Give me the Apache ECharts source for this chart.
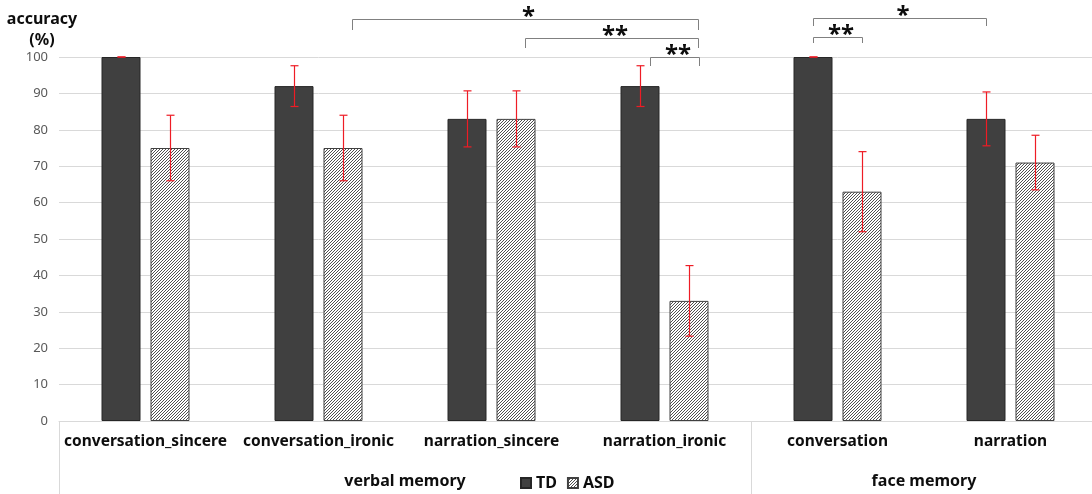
<!DOCTYPE html>
<html><head><meta charset="utf-8">
<script src="https://cdn.jsdelivr.net/npm/echarts@6/dist/echarts.min.js"></script>
<style>html,body{margin:0;padding:0;background:#fff;overflow:hidden}#c{width:1100px;height:494px}</style>
</head><body><div id="c"></div>
<script>
const categories = ['conversation_sincere','conversation_ironic','narration_sincere','narration_ironic','conversation','narration'];
const groupNames = ['verbal memory','face memory'];
const groupSpans = [4, 2];
const tdValues = [100, 92, 83, 92, 100, 83];
const asdValues = [75, 75, 83, 33, 63, 71];
const tdErrors = [0, 5.6, 7.7, 5.6, 0, 7.4];
const asdErrors = [9, 9, 7.7, 9.7, 11, 7.5];
const yMin = 0, yMax = 100, yInterval = 10;
// significance brackets: [catA, sideA, catB, sideB, level, tickDrop, label, pxShift]
const brackets = [
  [1, 1, 3, 1, 110.4, 3.0, '*', 9],
  [2, 1, 3, 1, 105.2, 2.7, '**', 9],
  [3, -1, 3, 1, 100.0, 2.5, '**', 10],
  [4, -1, 5, -1, 110.7, 2.2, '*', 0],
  [4, -1, 4, 1, 105.5, 1.7, '**', 0]
];

const FONT = 'Noto Sans';
const barWidth = 39, barGapPx = 10;
const barOffset = (barWidth + barGapPx) / 2;
const errColor = '#ee1c25';

function hatch() {
  const n = 3;
  const c = document.createElement('canvas');
  c.width = n; c.height = n;
  const g = c.getContext('2d');
  g.fillStyle = '#ffffff'; g.fillRect(0, 0, n, n);
  g.strokeStyle = '#3c3c3c'; g.lineWidth = 0.9;
  g.beginPath();
  g.moveTo(-1, n + 1); g.lineTo(n + 1, -1);
  g.moveTo(-1, 1); g.lineTo(1, -1);
  g.moveTo(n - 1, n + 1); g.lineTo(n + 1, n - 1);
  g.stroke();
  return c;
}

function errSeries(vals, errs, side) {
  return {
    type: 'custom', z: 10, silent: true,
    renderItem: function (params, api) {
      const i = api.value(0), v = api.value(1), e = api.value(2);
      const top = api.coord([i, v + e]);
      const bot = api.coord([i, v - e]);
      const x = Math.round(top[0] + side * barOffset) + 0.5;
      const st = { stroke: errColor, lineWidth: 1.2 };
      return { type: 'group', children: [
        { type: 'line', shape: { x1: x, y1: top[1], x2: x, y2: bot[1] }, style: st },
        { type: 'line', shape: { x1: x - 4, y1: top[1], x2: x + 4, y2: top[1] }, style: st },
        { type: 'line', shape: { x1: x - 4, y1: bot[1], x2: x + 4, y2: bot[1] }, style: st }
      ]};
    },
    data: vals.map((v, i) => [i, v, errs[i]])
  };
}

const chart = echarts.init(document.getElementById('c'), null, { renderer: 'canvas' });
const option = {
  animation: false,
  textStyle: { fontFamily: FONT },
  grid: { left: 59, width: 1038, top: 57, bottom: 73, containLabel: false },
  legend: {
    data: ['TD', 'ASD'], left: 520, top: 475, padding: 0, itemWidth: 10, itemHeight: 10, itemGap: 10,
    icon: 'rect',
    textStyle: { fontFamily: FONT, fontSize: 16, fontWeight: 'bold', color: '#0d0d0d' }
  },
  xAxis: {
    type: 'category', data: categories,
    axisLine: { show: true, lineStyle: { color: '#d9d9d9' } },
    axisTick: { show: false },
    axisLabel: { interval: 0, margin: 13, fontSize: 15.5, fontWeight: 'bold', color: '#0d0d0d', fontFamily: FONT }
  },
  yAxis: {
    type: 'value', min: yMin, max: yMax, interval: yInterval,
    axisLine: { show: false }, axisTick: { show: false },
    axisLabel: { margin: 11, fontSize: 13, color: '#595959', fontFamily: FONT },
    splitLine: { lineStyle: { color: '#d9d9d9' } }
  },
  series: [
    { name: 'TD', type: 'bar', data: tdValues, barWidth: barWidth, barGap: (barGapPx / barWidth * 100) + '%',
      itemStyle: { color: '#404040', borderColor: '#262626', borderWidth: 1 } },
    { name: 'ASD', type: 'bar', data: asdValues, barWidth: barWidth,
      itemStyle: { color: { image: hatch(), repeat: 'repeat' }, borderColor: '#404040', borderWidth: 1 } },
    errSeries(tdValues, tdErrors, -1),
    errSeries(asdValues, asdErrors, 1)
  ]
};
chart.setOption(option);

function px(i, v) { return chart.convertToPixel({ xAxisIndex: 0, yAxisIndex: 0 }, [i, v]); }
const graphics = [];
// y axis title
graphics.push({ type: 'text', x: 42, y: 19, style: { text: 'accuracy', font: 'bold 16px "' + FONT + '"', fill: '#0d0d0d', textAlign: 'center', textVerticalAlign: 'middle' } });
graphics.push({ type: 'text', x: 42, y: 40, style: { text: '(%)', font: 'bold 16px "' + FONT + '"', fill: '#0d0d0d', textAlign: 'center', textVerticalAlign: 'middle' } });
// brackets
brackets.forEach(b => {
  const [ca, sa, cb, sb, lvl, drop, label, shift] = b;
  const pa = px(ca, lvl), pb = px(cb, lvl), pd = px(ca, lvl - drop);
  const xa = Math.round(pa[0] + sa * barOffset + shift) + 0.5;
  const xb = Math.round(pb[0] + sb * barOffset + shift) + 0.5;
  const y = Math.round(pa[1]) + 0.5, y2 = Math.round(pd[1]);
  graphics.push({ type: 'polyline', shape: { points: [[xa, y2], [xa, y], [xb, y], [xb, y2]] },
    style: { stroke: '#808080', lineWidth: 1, fill: null } });
  graphics.push({ type: 'text', x: (xa + xb) / 2 + 3, y: y + 10, style: { text: label, font: 'bold 24px "' + FONT + '"', fill: '#0d0d0d', textAlign: 'center', textVerticalAlign: 'bottom' } });
});
// group labels and separators
const c0 = px(0, 0), c1 = px(1, 0);
const band = c1[0] - c0[0];
let startIdx = 0;
const baseY = c0[1];
const sepXs = [c0[0] - band / 2];
groupNames.forEach((g, k) => {
  const s = px(startIdx, 0)[0] - band / 2;
  const e = px(startIdx + groupSpans[k] - 1, 0)[0] + band / 2;
  graphics.push({ type: 'text', x: (s + e) / 2, y: 481, style: { text: g, font: 'bold 16px "' + FONT + '"', fill: '#0d0d0d', textAlign: 'center', textVerticalAlign: 'middle' } });
  sepXs.push(e);
  startIdx += groupSpans[k];
});
sepXs.forEach(x => {
  const xx = Math.round(x) + 0.5;
  graphics.push({ type: 'line', shape: { x1: xx, y1: baseY, x2: xx, y2: 494 }, style: { stroke: '#d9d9d9', lineWidth: 1 } });
});
chart.setOption({ graphic: graphics });
</script></body></html>
